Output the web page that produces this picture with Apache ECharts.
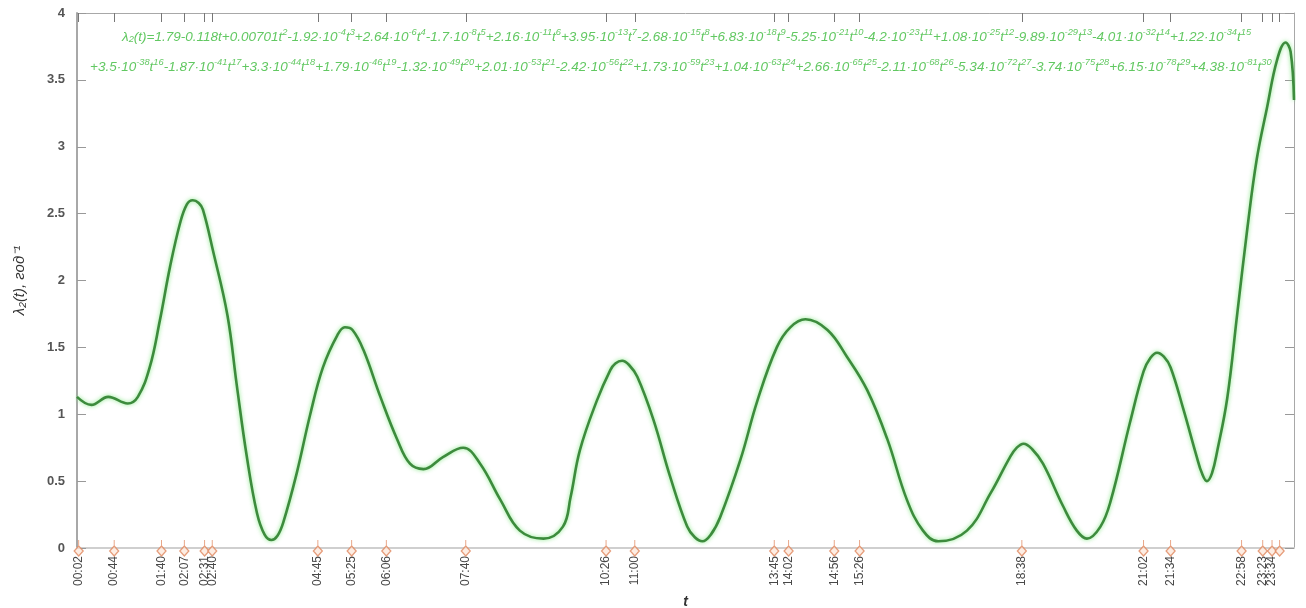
<!DOCTYPE html>
<html>
<head>
<meta charset="utf-8">
<script src="https://cdn.jsdelivr.net/npm/echarts@6/dist/echarts.min.js"></script>
<style>html,body{margin:0;padding:0;background:#fff}#c{width:1306px;height:608px}</style>
</head>
<body>
<div id="c"></div>
<script>
// Event times (x axis tick labels)
const eventTimes = ['00:02','00:44','01:40','02:07','02:31','02:40','04:45','05:25','06:06','07:40','10:26','11:00','13:45','14:02','14:56','15:26','18:38','21:02','21:34','22:58','23:23','23:34','23:43'];
// Curve sample times (minutes since 00:00)
const curveT = [0,17,37,60,72,86,98,110,122,130,137,144,149,161,178,189,201,213,222,230,237,244,260,276,291,308,317,326,339,359,379,394,410,433,457,477,501,524,552,575,584,595,615,631,637,645,653,663,682,702,722,731,740,750,761,785,805,828,844,862,888,911,935,959,982,1001,1019,1053,1081,1104,1112,1120,1130,1143,1167,1183,1195,1211,1223,1246,1262,1270,1278,1286,1294,1309,1325,1331,1337,1343,1349,1361,1373,1385,1396,1408,1420,1430,1436,1440];
// Curve values λ2(t)
const curveV = [1.13,1.07,1.13,1.08,1.13,1.35,1.70,2.10,2.43,2.57,2.60,2.58,2.53,2.22,1.74,1.22,0.68,0.26,0.10,0.06,0.09,0.19,0.56,1.00,1.35,1.59,1.65,1.63,1.48,1.13,0.81,0.63,0.59,0.68,0.75,0.63,0.36,0.13,0.07,0.16,0.38,0.73,1.10,1.33,1.38,1.40,1.37,1.28,0.96,0.53,0.16,0.08,0.05,0.10,0.23,0.66,1.10,1.50,1.65,1.71,1.63,1.43,1.18,0.81,0.36,0.13,0.05,0.13,0.41,0.68,0.75,0.78,0.74,0.63,0.31,0.13,0.07,0.16,0.35,0.94,1.32,1.42,1.46,1.43,1.35,1.04,0.68,0.56,0.50,0.56,0.72,1.12,1.76,2.40,2.91,3.29,3.65,3.78,3.71,3.35];
// Y axis ticks
const yTicks = [0,0.5,1,1.5,2,2.5,3,3.5,4];

// Formula text (^{...} marks a superscript, _{...} a subscript)
const formulaLine1 = 'λ_{2}(t)=1.79-0.118t+0.00701t^{2}-1.92·10^{-4}t^{3}+2.64·10^{-6}t^{4}-1.7·10^{-8}t^{5}+2.16·10^{-11}t^{6}+3.95·10^{-13}t^{7}-2.68·10^{-15}t^{8}+6.83·10^{-18}t^{9}-5.25·10^{-21}t^{10}-4.2·10^{-23}t^{11}+1.08·10^{-25}t^{12}-9.89·10^{-29}t^{13}-4.01·10^{-32}t^{14}+1.22·10^{-34}t^{15}';
const formulaLine2 = '+3.5·10^{-38}t^{16}-1.87·10^{-41}t^{17}+3.3·10^{-44}t^{18}+1.79·10^{-46}t^{19}-1.32·10^{-49}t^{20}+2.01·10^{-53}t^{21}-2.42·10^{-56}t^{22}+1.73·10^{-59}t^{23}+1.04·10^{-63}t^{24}+2.66·10^{-65}t^{25}-2.11·10^{-68}t^{26}-5.34·10^{-72}t^{27}-3.74·10^{-75}t^{28}+6.15·10^{-78}t^{29}+4.38·10^{-81}t^{30}';

function toMin(s){const p=s.split(':');return (+p[0])*60+(+p[1]);}
function fmt(m){const h=Math.floor(m/60),mm=Math.round(m-h*60);return String(h).padStart(2,'0')+':'+String(mm).padStart(2,'0');}
function toRich(s){
  let out='',i=0,buf='';
  while(i<s.length){
    if((s[i]==='^'||s[i]==='_')&&s[i+1]==='{'){
      if(buf){out+='{n|'+buf+'}';buf='';}
      const j=s.indexOf('}',i);
      out+='{'+(s[i]==='^'?'sup':'sub')+'|'+s.slice(i+2,j)+'}';
      i=j+1;
    } else {buf+=s[i];i++;}
  }
  if(buf) out+='{n|'+buf+'}';
  return out;
}
const eventMin = eventTimes.map(toMin);
const green = '#62c862';
const FF = 'Liberation Sans';
const rich = {
  n:{fontSize:13.5,fontStyle:'italic',fill:green,fontFamily:FF,lineHeight:16,verticalAlign:'bottom'},
  sup:{fontSize:9.3,fontStyle:'italic',fill:green,fontFamily:FF,lineHeight:16,verticalAlign:'top'},
  sub:{fontSize:9.3,fontStyle:'italic',fill:green,fontFamily:FF,lineHeight:16,verticalAlign:'bottom'}
};

const chart = echarts.init(document.getElementById('c'), null, {renderer:'canvas'});
chart.setOption({
  animation:false,
  backgroundColor:'#fff',
  grid:{left:77,right:12,top:13,bottom:60,containLabel:false,outerBoundsMode:'none'},
  xAxis:[{
    type:'value',min:0,max:1440,position:'bottom',
    name:'t',nameLocation:'middle',nameGap:47,
    nameTextStyle:{fontStyle:'italic',fontWeight:'bold',fontSize:14,color:'#333',fontFamily:FF},
    axisLine:{show:true,onZero:false,lineStyle:{color:'#cfcfcf',width:2}},
    axisTick:{show:false},
    splitLine:{show:false},
    axisLabel:{customValues:eventMin,formatter:v=>fmt(v),rotate:90,fontSize:12,color:'#484848',margin:8,fontFamily:FF}
  },{
    type:'value',min:0,max:1440,position:'top',
    axisLine:{show:true,onZero:false,lineStyle:{color:'#a8a8a8',width:1}},
    axisTick:{show:true,inside:true,length:9,customValues:eventMin,lineStyle:{color:'#777'}},
    axisLabel:{show:false},splitLine:{show:false}
  }],
  yAxis:[{
    type:'value',min:0,max:4,interval:0.5,position:'left',
    name:'λ₂(t), год⁻¹',nameLocation:'middle',nameGap:50,
    nameTextStyle:{fontStyle:'italic',fontSize:15,color:'#333',fontFamily:FF},
    axisLine:{show:true,onZero:false,lineStyle:{color:'#a8a8a8',width:2}},
    axisTick:{show:true,inside:true,length:9,customValues:yTicks,lineStyle:{color:'#999'}},
    axisLabel:{fontSize:13,color:'#555',fontWeight:'bold',margin:12,fontFamily:FF,customValues:yTicks,formatter:v=>String(v)},
    splitLine:{show:false}
  },{
    type:'value',min:0,max:4,interval:0.5,position:'right',
    axisLine:{show:true,onZero:false,lineStyle:{color:'#a8a8a8',width:1}},
    axisTick:{show:true,inside:true,length:9,lineStyle:{color:'#999'}},
    axisLabel:{show:false},splitLine:{show:false}
  }],
  series:[{
    type:'line',xAxisIndex:0,yAxisIndex:0,
    data:curveT.map((t,i)=>[t,curveV[i]]),
    smooth:0.4,showSymbol:false,clip:true,
    lineStyle:{color:'#3d8b3d',width:2.6,shadowColor:'rgba(120,230,120,0.9)',shadowBlur:4}
  },{
    type:'scatter',xAxisIndex:0,yAxisIndex:0,
    data:eventMin.map(m=>[m,0]),
    symbol:'path://M5,0 L5,6 M5,6 L9.5,11 L5,16 L0.5,11 Z',
    symbolSize:[9,16],
    itemStyle:{color:'#fde8dc',borderColor:'#e0865c',borderWidth:1.2},
    z:5
  }],
  graphic:[{
    type:'text',left:122,top:28,silent:true,
    style:{text:toRich(formulaLine1),rich:rich}
  },{
    type:'text',left:90,top:58,silent:true,
    style:{text:toRich(formulaLine2),rich:rich}
  }]
});
</script>
</body>
</html>
